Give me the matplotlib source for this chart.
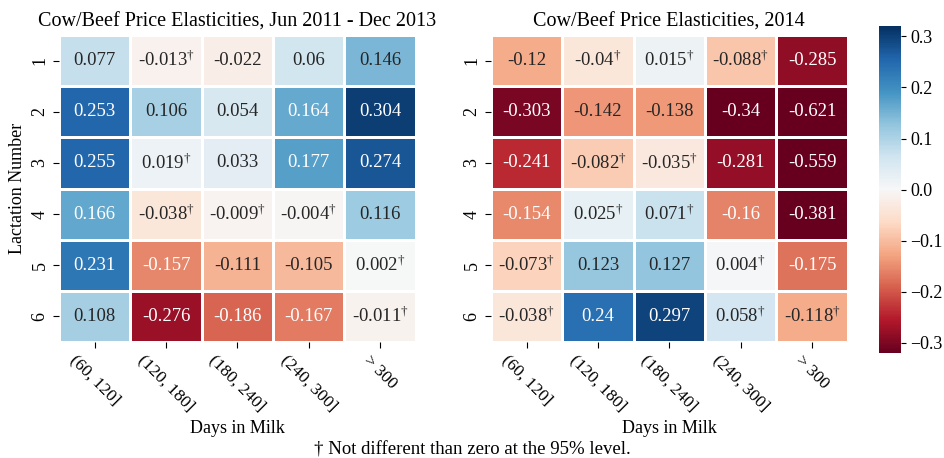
import numpy as np
import matplotlib
matplotlib.use("Agg")
import matplotlib.pyplot as plt
import seaborn as sns

# values
days = ["(60, 120]", "(120, 180]", "(180, 240]", "(240, 300]", "> 300"]
lactation = ["1", "2", "3", "4", "5", "6"]

elast_2011_2013 = [
    [0.077, -0.013, -0.022, 0.06, 0.146],
    [0.253, 0.106, 0.054, 0.164, 0.304],
    [0.255, 0.019, 0.033, 0.177, 0.274],
    [0.166, -0.038, -0.009, -0.004, 0.116],
    [0.231, -0.157, -0.111, -0.105, 0.002],
    [0.108, -0.276, -0.186, -0.167, -0.011],
]
# 1 where not different than zero at 95%
insig_2011_2013 = [
    [0, 1, 0, 0, 0],
    [0, 0, 0, 0, 0],
    [0, 1, 0, 0, 0],
    [0, 1, 1, 1, 0],
    [0, 0, 0, 0, 1],
    [0, 0, 0, 0, 1],
]

elast_2014 = [
    [-0.12, -0.04, 0.015, -0.088, -0.285],
    [-0.303, -0.142, -0.138, -0.34, -0.621],
    [-0.241, -0.082, -0.035, -0.281, -0.559],
    [-0.154, 0.025, 0.071, -0.16, -0.381],
    [-0.073, 0.123, 0.127, 0.004, -0.175],
    [-0.038, 0.24, 0.297, 0.058, -0.118],
]
insig_2014 = [
    [0, 1, 1, 1, 0],
    [0, 0, 0, 0, 0],
    [0, 1, 1, 0, 0],
    [0, 1, 1, 0, 0],
    [1, 0, 0, 1, 0],
    [1, 0, 0, 1, 1],
]

titles = ["Cow/Beef Price Elasticities, Jun 2011 - Dec 2013",
          "Cow/Beef Price Elasticities, 2014"]
cbar_ticks = [-0.3, -0.2, -0.1, 0.0, 0.1, 0.2, 0.3]

plt.rcParams['font.family'] = ['Liberation Serif', 'DejaVu Serif']
plt.rcParams['mathtext.fontset'] = 'custom'
plt.rcParams['mathtext.rm'] = 'Liberation Serif'
plt.rcParams['mathtext.it'] = 'Liberation Serif:italic'
plt.rcParams['mathtext.bf'] = 'Liberation Serif:bold'


def make_labels(vals, insig):
    out = []
    for row_v, row_s in zip(vals, insig):
        r = []
        for v, s in zip(row_v, row_s):
            txt = "%g" % v
            if s:
                txt += r"$^{\mathrm{†}}$"
            r.append(txt)
        out.append(r)
    return np.array(out)


fig = plt.figure(figsize=(9.44, 4.58), dpi=100)
ax1 = fig.add_axes([0.0625, 0.2533, 0.378, 0.670])
ax2 = fig.add_axes([0.520, 0.2533, 0.378, 0.670])
cax = fig.add_axes([0.931, 0.229, 0.0233, 0.714])

vlim = 0.32
for i, (ax, vals, insig) in enumerate([(ax1, elast_2011_2013, insig_2011_2013),
                                        (ax2, elast_2014, insig_2014)]):
    sns.heatmap(np.array(vals), ax=ax, cmap="RdBu", vmin=-vlim, vmax=vlim,
                annot=make_labels(vals, insig), fmt="", annot_kws={"size": 13.5},
                linewidths=2, linecolor="white",
                xticklabels=days, yticklabels=lactation,
                cbar=(i == 1), cbar_ax=cax if i == 1 else None)
    ax.set_title(titles[i], fontsize=14.5)
    ax.set_xlabel("Days in Milk", fontsize=13)
    ax.set_xticklabels(days, rotation=-45, ha="center", fontsize=12.5)
    ax.set_yticklabels(lactation, rotation=90, va="center", fontsize=13)
    ax.tick_params(length=4)

ax1.set_ylabel("Lactation Number", fontsize=13)

cbar = ax2.collections[0].colorbar
cbar.set_ticks(cbar_ticks)
cbar.ax.tick_params(labelsize=13)
cbar.outline.set_visible(False)

fig.text(0.5, 0.008, "† Not different than zero at the 95% level.",
         ha="center", fontsize=13.5)

fig.savefig("out.png", dpi=100)
